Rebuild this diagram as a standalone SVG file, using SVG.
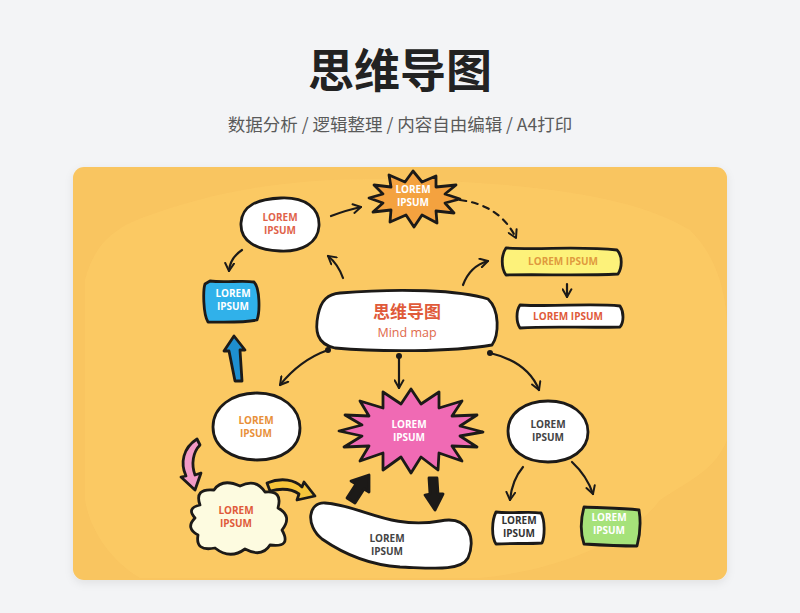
<svg xmlns="http://www.w3.org/2000/svg" width="800" height="613" viewBox="0 0 800 613">
<defs>
<style>
.ink{stroke:#1c1a18;stroke-width:2.8;stroke-linejoin:round;stroke-linecap:round}
.con{fill:none;stroke:#1c1a18;stroke-width:2.2;stroke-linecap:round}
.t{font-family:"Open Sans","Noto Sans",sans-serif;font-weight:700;font-size:10px;text-anchor:middle}
</style>
<marker id="ah" viewBox="0 0 10 10" refX="8" refY="5" markerWidth="5" markerHeight="5" orient="auto" markerUnits="strokeWidth">
<path d="M1,1 L8,5 L1,9" fill="none" stroke="#1c1a18" stroke-width="1.8" stroke-linecap="round" stroke-linejoin="round"/>
</marker>
<filter id="sh" x="-5%" y="-5%" width="110%" height="115%">
<feDropShadow dx="0" dy="3" stdDeviation="4" flood-color="#000" flood-opacity="0.08"/>
</filter>
</defs>
<rect width="800" height="613" fill="#f3f4f6"/>
<text x="400" y="87" font-family="'Noto Sans CJK SC',sans-serif" font-weight="700" font-size="46" fill="#222" text-anchor="middle">思维导图</text>
<text x="400" y="131" font-family="'Noto Sans CJK SC',sans-serif" font-size="17.5" fill="#5a5a5a" text-anchor="middle">数据分析 / 逻辑整理 / 内容自由编辑 / A4打印</text>

<g id="card">
<rect x="73" y="167" width="654" height="413" rx="11" fill="#f9c560" filter="url(#sh)"/>
<path d="M150,215 C220,190 300,175 420,180 C560,185 640,200 690,230 C720,260 727,300 727,330 L727,440 C715,470 690,480 660,500 C630,540 560,570 480,578 L140,578 C110,560 90,530 85,500 L85,280 C95,240 120,225 150,215 Z" fill="#fcca65" opacity="0.7"/>
</g>

<g id="connectors">
<path class="con" d="M331,216 Q347,210 361,207" marker-end="url(#ah)"/>
<path class="con" d="M460,200 Q500,205 516,238" stroke-dasharray="6 6" marker-end="url(#ah)"/>
<path class="con" d="M242,250 Q230,258 229,271" marker-end="url(#ah)"/>
<path class="con" d="M343,278 Q338,264 328,256" marker-end="url(#ah)"/>
<path class="con" d="M463,285 Q470,266 488,261" marker-end="url(#ah)"/>
<path class="con" d="M567,284 L567,297" marker-end="url(#ah)"/>
<path class="con" d="M328,350 Q300,360 280,385" marker-end="url(#ah)"/>
<circle cx="328" cy="350" r="3" fill="#1c1a18"/>
<path class="con" d="M399,356 L399,388" marker-end="url(#ah)"/>
<circle cx="399" cy="356" r="3" fill="#1c1a18"/>
<path class="con" d="M490,353 Q528,362 539,390" marker-end="url(#ah)"/>
<circle cx="490" cy="353" r="3" fill="#1c1a18"/>
<path class="con" d="M523,467 Q512,480 510,500" marker-end="url(#ah)"/>
<path class="con" d="M572,462 Q587,476 593,494" marker-end="url(#ah)"/>
<path d="M234,336 L245,350 L240,350 L242,381 L235,381 L229,351 L224,351 Z" fill="#1e8fd0" class="ink" stroke-width="2"/>
<path d="M197,439 C183,448 180,463 186,476 L181,477 L195,490 L201,473 L195,475 C191,464 193,452 200,445 Z" fill="#f29ac6" class="ink" stroke-width="1.8"/>
<path d="M267,483 C282,477 295,480 302,487 L304,482 L315,496 L297,500 L299,494 C292,489 282,488 270,491 Z" fill="#f7c63c" class="ink" stroke-width="1.8"/>
<path d="M369,475 L369,492 L364,489 L355,503 L347,498 L356,484 L351,481 Z" fill="#1c1a18" class="ink" stroke-width="1.5"/>
<path d="M435,510 L443,494 L438,494 L437,478 L429,478 L430,494 L425,495 Z" fill="#1c1a18" class="ink" stroke-width="1.5"/>
</g>

<g id="node-top-left">
<path class="ink" fill="#fff" d="M281,198 C305,197 320,208 319,226 C318,243 302,252 280,251 C256,250 240,241 241,223 C242,205 258,199 281,198 Z"/>
<text class="t" x="280" y="221" fill="#e0634a">LOREM</text>
<text class="t" x="280" y="234" fill="#e0634a">IPSUM</text>
</g>

<g id="node-orange-star">
<polygon class="ink" fill="#f4a23f" points="460,199 445,203 454,213 436,211 437,223 422,215 414,227 406,215 390,222 391,210 373,212 383,203 369,198 383,194 374,185 391,187 389,175 405,182 413,171 422,182 436,176 436,187 456,185 445,194"/>
<text class="t" x="413" y="193" fill="#fff">LOREM</text>
<text class="t" x="413" y="206" fill="#fff">IPSUM</text>
</g>

<g id="node-yellow-rect">
<path class="ink" fill="#fdf27a" d="M506,248 C540,250 580,246 617,250 C623,256 622,268 618,274 C580,276 540,274 506,275 C501,268 501,255 506,248 Z"/>
<text class="t" x="563" y="265" fill="#e09a3e">LOREM IPSUM</text>
</g>

<g id="node-white-rect">
<path class="ink" fill="#fff" d="M520,305 C555,307 590,303 620,306 C624,312 624,322 620,327 C585,328 550,326 520,328 C516,322 516,311 520,305 Z"/>
<text class="t" x="568" y="320" fill="#e05a3a">LOREM IPSUM</text>
</g>

<g id="node-blue">
<path class="ink" fill="#30b1ea" d="M210,281 C225,283 243,280 254,282 C260,288 260,312 257,320 C243,323 222,322 208,322 C203,314 203,290 205,284 Z"/>
<text class="t" x="233" y="297" fill="#fff">LOREM</text>
<text class="t" x="233" y="310" fill="#fff">IPSUM</text>
</g>

<g id="node-center">
<path class="ink" fill="#fff" d="M340,293 C400,288 460,290 488,299 C500,310 499,335 492,345 C450,352 380,352 335,348 C316,344 315,330 318,315 C321,300 328,294 340,293 Z"/>
<text x="407" y="318" font-family="'Noto Sans CJK SC',sans-serif" font-weight="700" font-size="17" fill="#e05a3a" text-anchor="middle">思维导图</text>
<text x="407" y="337" font-family="'Open Sans',sans-serif" font-size="12.5" fill="#e0694a" text-anchor="middle">Mind map</text>
</g>

<g id="node-left-ellipse">
<path class="ink" fill="#fff" d="M257,393 C282,393 300,408 300,428 C300,448 282,460 257,460 C232,460 213,447 213,427 C213,407 232,393 257,393 Z"/>
<text class="t" x="256" y="424" fill="#e8903a">LOREM</text>
<text class="t" x="256" y="437" fill="#e8903a">IPSUM</text>
</g>

<g id="node-pink-star">
<polygon class="ink" fill="#f06ab4" points="483,432 460,436 477,447 452,446 462,461 439,453 438,470 421,457 411,473 401,457 383,470 383,453 360,461 369,446 344,447 362,436 339,431 362,425 345,415 369,416 360,401 383,408 383,392 401,404 411,389 421,404 439,392 439,408 462,401 452,416 477,415 460,426"/>
<text class="t" x="409" y="428" fill="#fff">LOREM</text>
<text class="t" x="409" y="441" fill="#fff">IPSUM</text>
</g>

<g id="node-right-ellipse">
<path class="ink" fill="#fff" d="M548,401 C571,401 588,414 588,432 C588,450 571,462 548,462 C525,462 508,450 508,431 C508,413 525,401 548,401 Z"/>
<text class="t" x="548" y="428" fill="#444">LOREM</text>
<text class="t" x="548" y="441" fill="#444">IPSUM</text>
</g>

<g id="node-cloud">
<path class="ink" fill="#fdfbe0" d="M200,505 Q194,488 214,490 Q222,478 240,486 Q256,478 265,492 Q283,490 278,508 Q293,516 282,530 Q292,548 270,545 Q262,558 245,549 Q230,560 215,548 Q195,552 198,535 Q185,528 195,518 Q186,508 200,505 Z"/>
<text class="t" x="236" y="514" fill="#e05a3a">LOREM</text>
<text class="t" x="236" y="527" fill="#e05a3a">IPSUM</text>
</g>

<g id="node-bean">
<path class="ink" fill="#fff" d="M325,503 C360,505 390,530 440,521 C470,515 476,540 468,558 C460,572 430,568 400,567 C370,565 345,555 322,539 C305,525 308,502 325,503 Z"/>
<text class="t" x="387" y="542" fill="#444">LOREM</text>
<text class="t" x="387" y="555" fill="#444">IPSUM</text>
</g>

<g id="node-small-white">
<path class="ink" fill="#fff" d="M496,512 C510,514 528,511 541,513 C545,520 545,536 542,543 C528,544 510,543 496,544 C491,536 492,520 496,512 Z"/>
<text class="t" x="519" y="524" fill="#333">LOREM</text>
<text class="t" x="519" y="537" fill="#333">IPSUM</text>
</g>

<g id="node-green">
<path class="ink" fill="#a6e27a" d="M584,507 C603,508 622,508 639,510 C641,522 640,535 637,546 C620,546 600,545 584,544 C580,532 581,518 584,507 Z"/>
<text class="t" x="609" y="521" fill="#fff">LOREM</text>
<text class="t" x="609" y="534" fill="#fff">IPSUM</text>
</g>
</svg>
